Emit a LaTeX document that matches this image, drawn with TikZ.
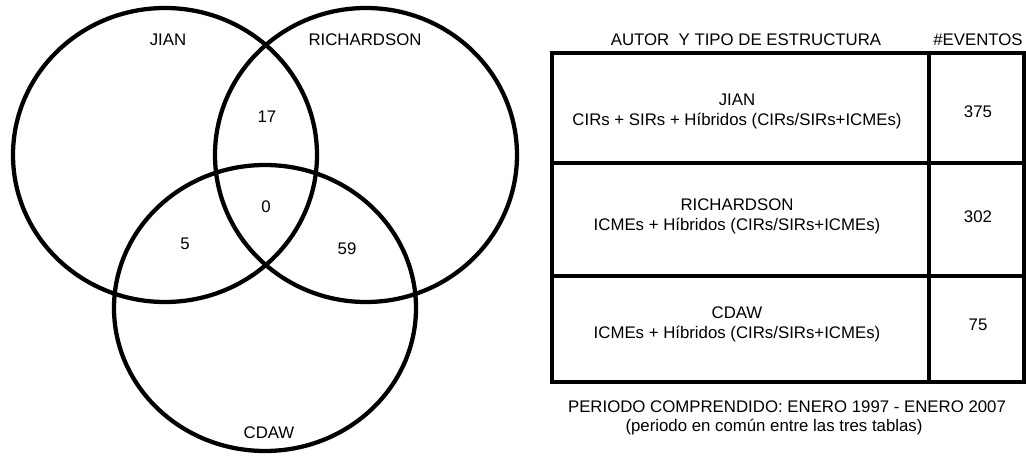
\documentclass[tikz,border=0pt]{standalone}
\usepackage{fontspec}
\setmainfont{Liberation Sans}
\begin{document}
\begin{tikzpicture}[x=0.75pt,y=-0.75pt,
  every node/.style={font=\fontsize{12.6}{15}\selectfont, inner sep=0pt, align=center}]
  \useasboundingbox (0,0) rectangle (1026,456);
  % diagrama de Venn
  \begin{scope}[line width=3.2pt]
    \draw (165,155) ellipse (152 and 147);
    \draw (366,155) ellipse (151 and 147);
    \draw (265,308) ellipse (151 and 143);
  \end{scope}
  \node (jian) at (168,40) {JIAN};
  \node (richardson) at (365,40) {RICHARDSON};
  \node (cdaw) at (269,433) {CDAW};
  \node (jr) at (267,117) {17};
  \node (jrc) at (266,207) {0};
  \node (jc) at (185,244) {5};
  \node (rc) at (347,249) {59};
  % tabla
  \begin{scope}[line width=2.6pt]
    \draw (552,53) rectangle (1024,382);
    \draw (552,163) -- (1024,163);
    \draw (552,276) -- (1024,276);
  \end{scope}
  \draw[line width=3.6pt] (929,53) -- (929,382);
  \node (autor) at (746,40) {AUTOR~~Y TIPO DE ESTRUCTURA};
  \node (eventos) at (978,40) {\#EVENTOS};
  \node (fila1) at (737,111) {JIAN\\CIRs + SIRs + Híbridos (CIRs/SIRs+ICMEs)};
  \node (fila2) at (737,216.5) {RICHARDSON\\ICMEs + Híbridos (CIRs/SIRs+ICMEs)};
  \node (fila3) at (737,324.5) {CDAW\\ICMEs + Híbridos (CIRs/SIRs+ICMEs)};
  \node (n1) at (978,112) {375};
  \node (n2) at (978,217) {302};
  \node (n3) at (978,325) {75};
  \node (periodo) at (787,407) {PERIODO COMPRENDIDO: ENERO 1997 - ENERO 2007};
  \node (nota) at (774,427) {(periodo en común entre las tres tablas)};
\end{tikzpicture}
\end{document}
